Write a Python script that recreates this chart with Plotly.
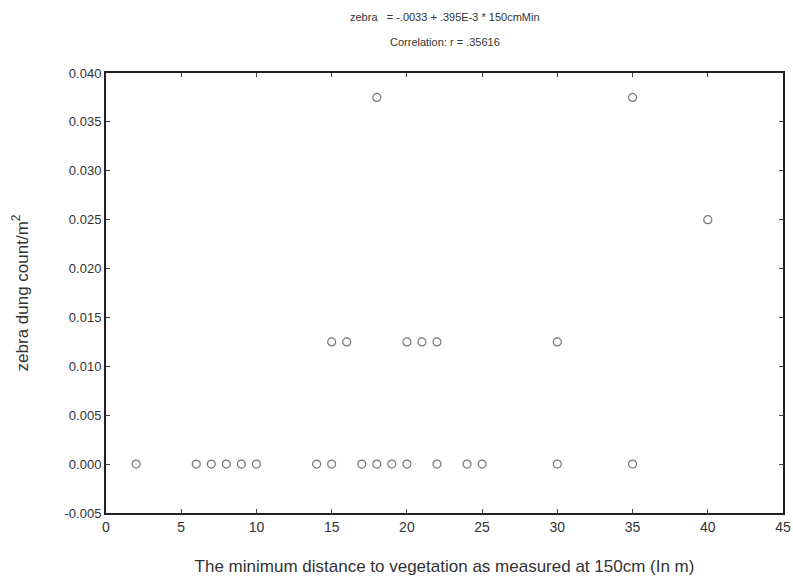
import plotly.graph_objects as go

x_zero = [2, 6, 7, 8, 9, 10, 14, 15, 17, 18, 19, 20, 22, 24, 25, 30, 35]
x_mid = [15, 16, 20, 21, 22, 30]
x_high = [40]
x_top = [18, 35]

xs = x_zero + x_mid + x_high + x_top
ys = [0.0] * len(x_zero) + [0.0125] * len(x_mid) + [0.025] * len(x_high) + [0.0375] * len(x_top)

x_ticks = [0, 5, 10, 15, 20, 25, 30, 35, 40, 45]
y_ticks = [-0.005, 0.0, 0.005, 0.010, 0.015, 0.020, 0.025, 0.030, 0.035, 0.040]
y_tick_labels = ["-0.005", "0.000", "0.005", "0.010", "0.015", "0.020", "0.025", "0.030", "0.035", "0.040"]

fig = go.Figure()
fig.add_trace(go.Scatter(
    x=xs, y=ys, mode="markers",
    marker=dict(symbol="circle-open", size=8, color="#777777", line=dict(width=1.2)),
    showlegend=False,
))

font = "Liberation Sans, Arial, sans-serif"
fig.update_layout(
    width=793, height=582,
    margin=dict(l=106, r=10, t=73, b=69, autoexpand=False),
    paper_bgcolor="white", plot_bgcolor="white",
    font=dict(family=font, color="#333333", size=12),
    xaxis=dict(range=[0, 45], tickvals=x_ticks, ticks="inside", ticklen=4,
               showline=True, linecolor="#222222", linewidth=2, mirror="allticks",
               showgrid=False, zeroline=False, tickfont=dict(size=14), automargin=False,
               title=dict(text="The minimum distance to vegetation as measured at 150cm (In m)",
                          font=dict(size=17), standoff=26)),
    yaxis=dict(range=[-0.005, 0.040], tickvals=y_ticks, ticktext=y_tick_labels,
               ticks="inside", ticklen=4,
               showline=True, linecolor="#222222", linewidth=2, mirror="allticks",
               showgrid=False, zeroline=False, tickfont=dict(size=13), automargin=False,
               title=dict(text="zebra dung count/m<sup>2</sup>", font=dict(size=17), standoff=32)),
)
fig.add_annotation(text="zebra   = -.0033 + .395E-3 * 150cmMin", xref="paper", yref="paper",
                   x=0.5, y=1.0, yshift=64, showarrow=False, font=dict(size=11))
fig.add_annotation(text="Correlation: r = .35616", xref="paper", yref="paper",
                   x=0.5, y=1.0, yshift=39, showarrow=False, font=dict(size=11))

fig.write_html("out.html")
